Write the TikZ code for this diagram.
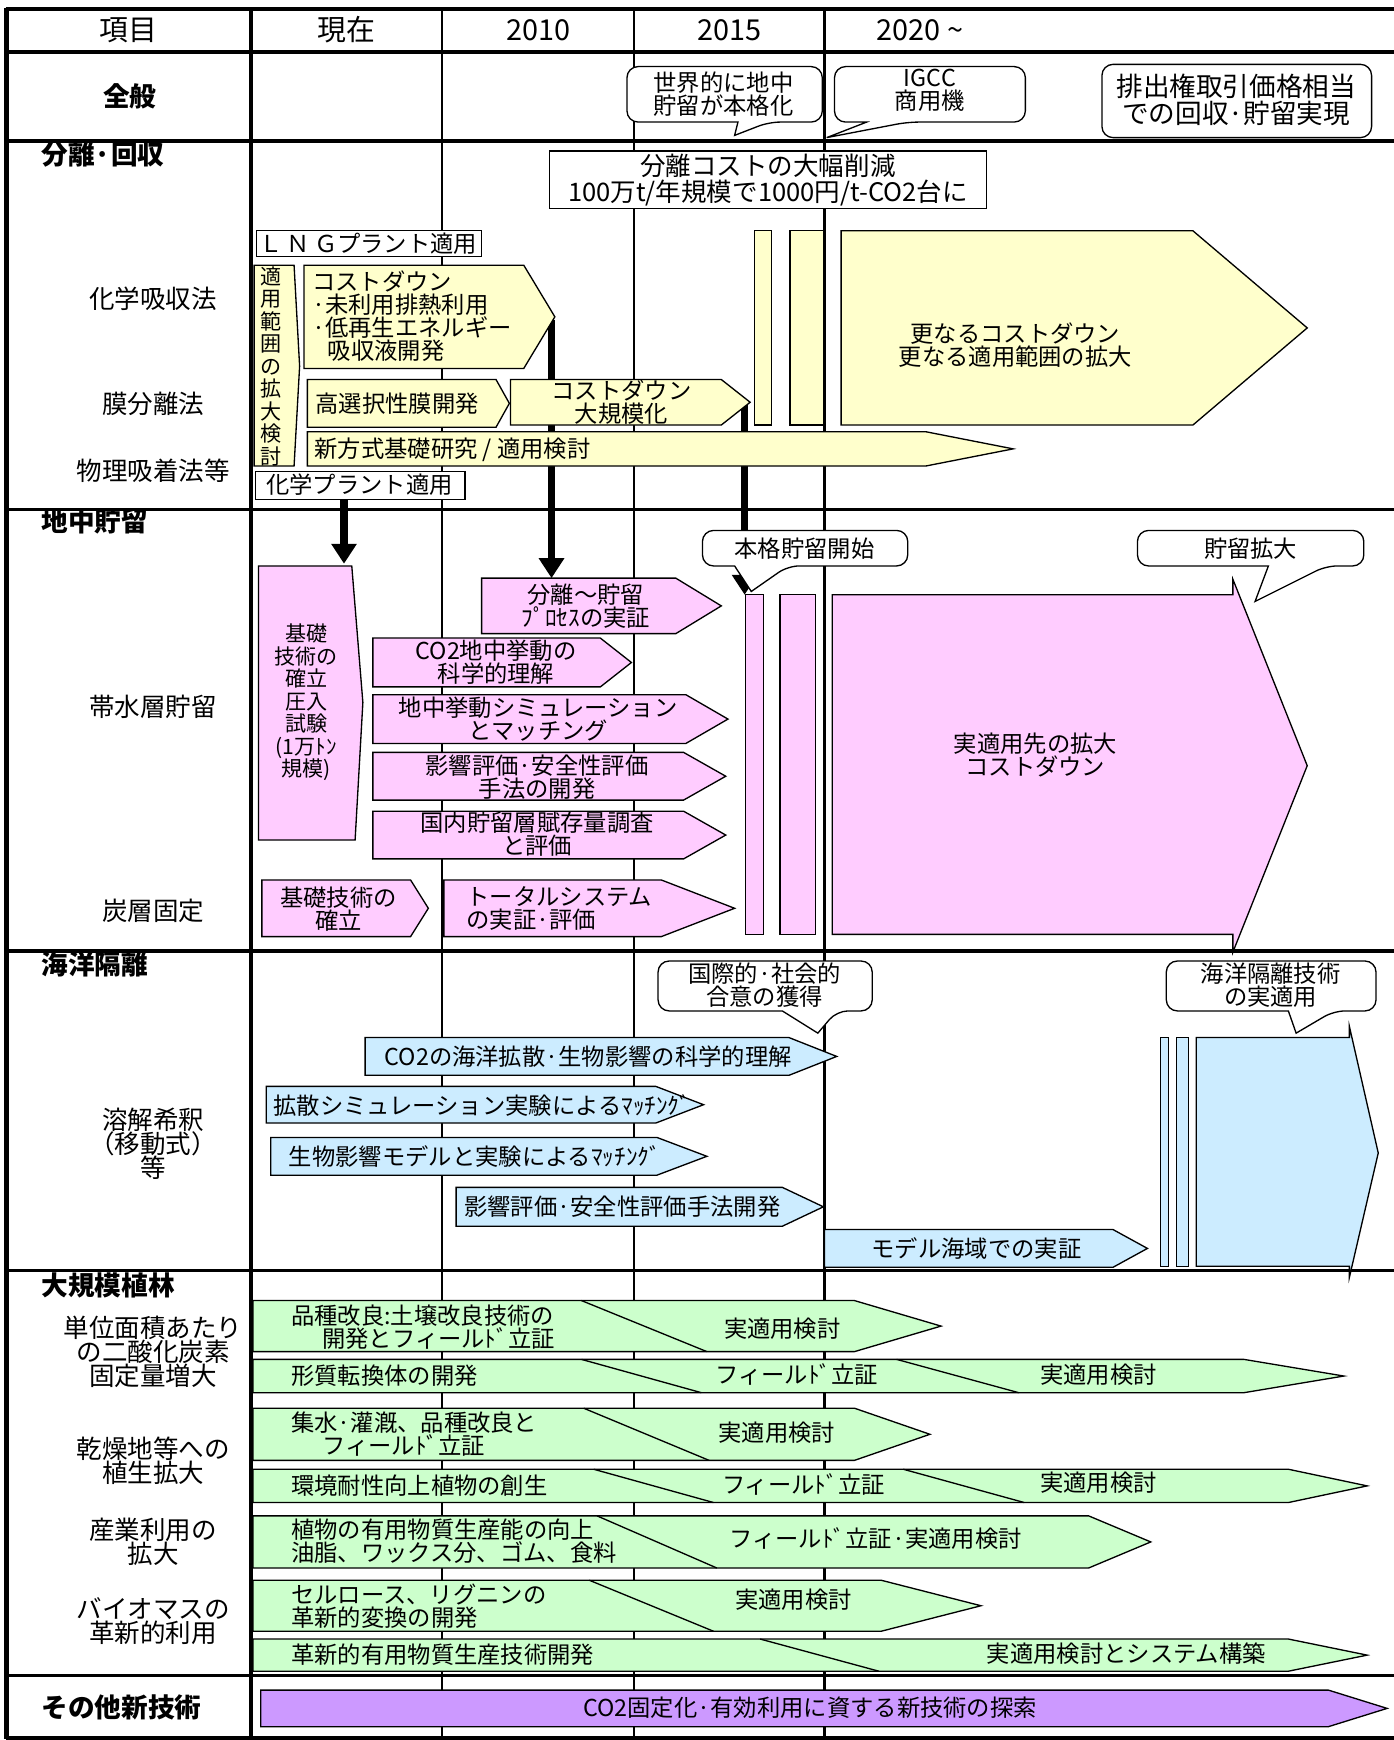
\documentclass[tikz,border=0pt]{standalone}
\usepackage{fontspec}
\setmainfont{Noto Sans CJK JP}
\usetikzlibrary{arrows.meta}
\definecolor{cyel}{HTML}{FFFFCC}
\definecolor{cpink}{HTML}{FFCCFF}
\definecolor{cblue}{HTML}{CCECFF}
\definecolor{cgreen}{HTML}{CCFFCC}
\definecolor{cpurple}{HTML}{CC99FF}
\newcommand\fntbox{\fontsize{10.5}{10.4}\selectfont\lineskiplimit=-20pt\relax}
\newcommand\fntbig{\fontsize{11.5}{11.6}\selectfont\lineskiplimit=-20pt\relax}
\newcommand\fntbigger{\fontsize{12}{12}\selectfont\lineskiplimit=-20pt\relax}
\newcommand\fntvert{\fontsize{9.5}{10.15}\selectfont\lineskiplimit=-20pt\relax}
\newcommand\fntlab{\fontsize{11.5}{10.8}\selectfont\lineskiplimit=-20pt\relax}
\newcommand\fnthead{\fontsize{13}{13}\selectfont}
\newcommand\fntsec{\fontsize{12}{12}\selectfont\bfseries}
% pentagon arrow: style, x1, y1, x2(tip), y2, headstart
\newcommand\myarrow[6]{\filldraw[#1] (#2,#3) -- (#6,#3) -- (#4,{(#3+#5)/2}) -- (#6,#5) -- (#2,#5) -- cycle;}
% callout: x1,x2,y1,y2, base right, tip x, tip y, base left
\newcommand\mycallout[8]{\draw[shp,fill=white] ({(#1+#2)/2},#3) [rounded corners=5pt] -- (#2,#3) -- (#2,#4) -- (#5,#4) [sharp corners] -- (#6,#7) -- (#8,#4) [rounded corners=5pt] -- (#1,#4) -- (#1,#3) -- cycle;}
\tikzset{
  gthin/.style={line width=1pt},
  gmid/.style={line width=1.5pt},
  gthick/.style={line width=2pt},
  shp/.style={draw=black,line width=0.6pt},
  yelshape/.style={shp,fill=cyel},
  pinkshape/.style={shp,fill=cpink},
  blueshape/.style={shp,fill=cblue},
  greenshape/.style={shp,fill=cgreen},
  purpshape/.style={shp,fill=cpurple},
  conn/.style={line width=3.2pt,-{Triangle[length=9pt,width=11pt]}},
  t/.style={inner sep=0pt,align=center,font=\fntbox},
  tl/.style={inner sep=0pt,align=left,anchor=west,font=\fntbox},
  lab/.style={inner sep=0pt,align=center,font=\fntlab},
  sec/.style={inner sep=0pt,anchor=west,font=\fntsec},
  hd/.style={inner sep=0pt,font=\fnthead},
}
\begin{document}
\begin{tikzpicture}[x=0.5pt,y=-0.5pt]
\useasboundingbox (0,0) rectangle (1256,1568);
\fill[white] (0,0) rectangle (1256,1568);
% ---------------- grid
\foreach \xx in {398,571,743} \draw[gthin] (\xx,8) -- (\xx,1566);
\draw[gthick] (226,8) -- (226,1566);
\draw[gthick] (6,7) -- (6,1567);
\draw[gthick] (5,8) -- (1256,8);
\draw[gthick] (5,47) -- (1256,47);
\foreach \yy in {127,459,857,1145,1510} \draw[gmid] (5,\yy) -- (1256,\yy);
\draw[gthick] (5,1566) -- (1256,1566);
% ---------------- header
\node[hd] (h0) at (116,27) {項目};
\node[hd] (h1) at (312,27) {現在};
\node[hd] (h2) at (485,27) {2010};
\node[hd] (h3) at (657,27) {2015};
\node[hd] (h4) at (829,27) {2020 \textasciitilde};
% ---------------- section labels
\node[inner sep=0pt,font=\fntsec] (s0) at (117,87) {全般};
\node[sec] (s1) at (37,139) {分離·回収};
\node[sec] (s2) at (37,470) {地中貯留};
\node[sec] (s3) at (37,869) {海洋隔離};
\node[sec] (s4) at (37,1158) {大規模植林};
\node[sec] (s5) at (37,1539) {その他新技術};
% ---------------- row labels
\node[lab] (r1) at (138,269) {化学吸収法};
\node[lab] (r2) at (138,364) {膜分離法};
\node[lab] (r3) at (138,424) {物理吸着法等};
\node[lab] (r4) at (138,637) {帯水層貯留};
\node[lab] (r5) at (138,821) {炭層固定};
\node[lab] (r6) at (138,1031) {溶解希釈\\（移動式）\\等};
\node[lab] (r7) at (138,1218) {単位面積あたり\\の二酸化炭素\\固定量増大};
\node[lab] (r8) at (138,1316) {乾燥地等への\\植生拡大};
\node[lab] (r9) at (138,1389) {産業利用の\\拡大};
\node[lab] (r10) at (138,1461) {バイオマスの\\革新的利用};
% ---------------- connectors (behind shapes)
\coordinate (c1a) at (310,450); \coordinate (c1b) at (310,508);
\coordinate (c2a) at (497,288); \coordinate (c2b) at (497,521);
\coordinate (c3a) at (671,364); \coordinate (c3b) at (671,536);
\draw[conn] (c1a) -- (c1b);
\draw[conn] (c2a) -- (c2b);
\draw[conn] (c3a) -- (c3b);
% ---------------- 全般 callouts
\mycallout{565}{741}{60}{110}{693}{662}{122}{665}
\node[t] (g1) at (652,85) {世界的に地中\\貯留が本格化};
\mycallout{752}{924}{60}{110}{818}{745}{124}{781}
\node[t] (g2) at (838,81) {IGCC\\商用機};
\draw[shp,fill=white,rounded corners=5pt] (993,58) rectangle (1236,124);
\node[t,font=\fntbigger] (g3) at (1114,90) {排出権取引価格相当\\での回収·貯留実現};
% ---------------- 分離・回収
\draw[shp,fill=white] (495,136) rectangle (889,188);
\node[t,font=\fntbig] (b1) at (692,162) {分離コストの大幅削減\\100万t/年規模で1000円/t-CO2台に};
\draw[shp,fill=white] (231,208) rectangle (434,231);
\node[t] (lng) at (332,220) {Ｌ\,Ｎ\,Ｇプラント適用};
\filldraw[yelshape] (229,239) -- (265,239) -- (270,330) -- (265,420) -- (229,420) -- cycle;
\node[t,font=\fntvert] (tek) at (244,330) {適\\用\\範\\囲\\の\\拡\\大\\検\\討};
\myarrow{yelshape}{274}{239}{500}{332}{472}
\node[tl] (cd1) at (281,285) {コストダウン\\·未利用排熱利用\\·低再生エネルギー\\\hspace*{7pt}吸収液開発};
\myarrow{yelshape}{277}{342}{459}{385}{447}
\node[tl] (mk) at (284,364) {高選択性膜開発};
\myarrow{yelshape}{460}{342}{676}{383}{650}
\node[t] (cd2) at (560,362) {コストダウン\\大規模化};
\filldraw[yelshape] (680,208) rectangle (695,383);
\filldraw[yelshape] (712,208) rectangle (742,383);
\myarrow{yelshape}{758}{208}{1178}{383}{1075}
\node[t] (cd3) at (915,311) {更なるコストダウン\\更なる適用範囲の拡大};
\myarrow{yelshape}{277}{389}{913}{420}{834}
\node[tl] (ns) at (283,405) {新方式基礎研究 / 適用検討};
\draw[shp,fill=white] (230,425) rectangle (419,450);
\node[t] (kp) at (324,437) {化学プラント適用};
% ---------------- 地中貯留
\filldraw[pinkshape] (233,510) -- (317,510) -- (327,633) -- (320,757) -- (233,757) -- cycle;
\node[t,font=\fntvert] (kiso) at (276,633) {基礎\\技術の\\確立\\圧入\\試験\\(1万ﾄﾝ\\規模)};
\myarrow{pinkshape}{434}{521}{650}{571}{609}
\node[t] (p1) at (528,546) {分離～貯留\\ﾌﾟﾛｾｽの実証};
\myarrow{pinkshape}{336}{575}{569}{619}{541}
\node[t] (p2) at (447,597) {CO2地中挙動の\\科学的理解};
\myarrow{pinkshape}{336}{626}{656}{670}{618}
\node[t] (p3) at (485,648) {地中挙動シミュレーション\\とマッチング};
\myarrow{pinkshape}{336}{678}{654}{721}{616}
\node[t] (p4) at (484,700) {影響評価·安全性評価\\手法の開発};
\myarrow{pinkshape}{336}{731}{654}{774}{616}
\node[t] (p5) at (484,752) {国内貯留層賦存量調査\\と評価};
\myarrow{pinkshape}{236}{793}{386}{844}{370}
\node[t] (p6) at (305,819) {基礎技術の\\確立};
\myarrow{pinkshape}{400}{793}{662}{844}{596}
\node[tl] (p7) at (420,819) {トータルシステム\\の実証·評価};
\filldraw[pinkshape] (672,536) rectangle (688,842);
\filldraw[pinkshape] (703,536) rectangle (735,842);
\filldraw[pinkshape] (750,536) -- (1111,536) -- (1111,522) -- (1178,690) -- (1111,858) -- (1111,842) -- (750,842) -- cycle;
\node[t] (p8) at (933,680) {実適用先の拡大\\コストダウン};
\mycallout{633}{818}{478}{510}{710}{677}{533}{662}
\node[t] (p9) at (725,494) {本格貯留開始};
\mycallout{1025}{1229}{478}{510}{1195}{1131}{542}{1143}
\node[t] (p10) at (1127,494) {貯留拡大};
% ---------------- 海洋隔離
\myarrow{blueshape}{329}{935}{754}{969}{711}
\node[t] (o1) at (530,952) {CO2の海洋拡散·生物影響の科学的理解};
\myarrow{blueshape}{240}{979}{634}{1012}{591}
\node[tl] (o2) at (246,996) {拡散シミュレーション実験によるﾏｯﾁﾝｸﾞ};
\myarrow{blueshape}{244}{1025}{637}{1059}{592}
\node[tl] (o3) at (260,1042) {生物影響モデルと実験によるﾏｯﾁﾝｸﾞ};
\myarrow{blueshape}{411}{1070}{742}{1105}{705}
\node[tl] (o4) at (418,1087) {影響評価·安全性評価手法開発};
\myarrow{blueshape}{743}{1108}{1034}{1142}{1003}
\node[t] (o5) at (880,1125) {モデル海域での実証};
\filldraw[blueshape] (1046,935) rectangle (1053,1141);
\filldraw[blueshape] (1060,935) rectangle (1071,1141);
\filldraw[blueshape] (1078,935) -- (1216,935) -- (1216,925) -- (1242,1039) -- (1216,1151) -- (1216,1141) -- (1078,1141) -- cycle;
\mycallout{593}{786}{866}{911}{754}{737}{931}{705}
\node[t] (o6) at (689,888) {国際的·社会的\\合意の獲得};
\mycallout{1051}{1240}{866}{911}{1202}{1168}{931}{1161}
\node[t] (o7) at (1145,888) {海洋隔離技術\\の実適用};
% ---------------- 大規模植林
% row 1
\myarrow{greenshape}{228}{1172}{848}{1218}{770}
\draw[shp] (524,1172) -- (637,1218);
\node[tl] (f1a) at (262,1196) {品種改良:土壌改良技術の\\\hspace*{14pt}開発とフィールﾄﾞ立証};
\node[t] (f1b) at (705,1197) {実適用検討};
% row 2
\myarrow{greenshape}{228}{1225}{1211}{1255}{1121}
\draw[shp] (524,1225) -- (632,1255);
\draw[shp] (808,1225) -- (918,1255);
\node[tl] (f2a) at (262,1240) {形質転換体の開発};
\node[t] (f2b) at (718,1239) {フィールﾄﾞ立証};
\node[t] (f2c) at (990,1239) {実適用検討};
% row 3
\myarrow{greenshape}{228}{1269}{838}{1316}{770}
\draw[shp] (526,1269) -- (639,1316);
\node[tl] (f3a) at (262,1292) {集水·灌漑、品種改良と\\\hspace*{14pt}フィールﾄﾞ立証};
\node[t] (f3b) at (700,1291) {実適用検討};
% row 4
\myarrow{greenshape}{228}{1324}{1232}{1354}{1161}
\draw[shp] (535,1324) -- (643,1354);
\draw[shp] (814,1324) -- (923,1354);
\node[tl] (f4a) at (262,1339) {環境耐性向上植物の創生};
\node[t] (f4b) at (724,1338) {フィールﾄﾞ立証};
\node[t] (f4c) at (990,1336) {実適用検討};
% row 5
\myarrow{greenshape}{228}{1366}{1037}{1413}{981}
\draw[shp] (538,1366) -- (646,1413);
\node[tl] (f5a) at (262,1389) {植物の有用物質生産能の向上\\油脂、ワックス分、ゴム、食料};
\node[t] (f5b) at (789,1386) {フィールﾄﾞ立証·実適用検討};
% row 6
\myarrow{greenshape}{228}{1424}{884}{1470}{794}
\draw[shp] (531,1424) -- (643,1470);
\node[tl] (f6a) at (262,1447) {セルロース、リグニンの\\革新的変換の開発};
\node[t] (f6b) at (715,1442) {実適用検討};
% row 7
\myarrow{greenshape}{228}{1477}{1232}{1506}{1161}
\draw[shp] (685,1477) -- (792,1506);
\node[tl] (f7a) at (262,1491) {革新的有用物質生産技術開発};
\node[t] (f7b) at (1015,1490) {実適用検討とシステム構築};
% ---------------- その他
\myarrow{purpshape}{235}{1523}{1250}{1556}{1197}
\node[t] (z1) at (730,1539) {CO2固定化·有効利用に資する新技術の探索};
\end{tikzpicture}
\end{document}
